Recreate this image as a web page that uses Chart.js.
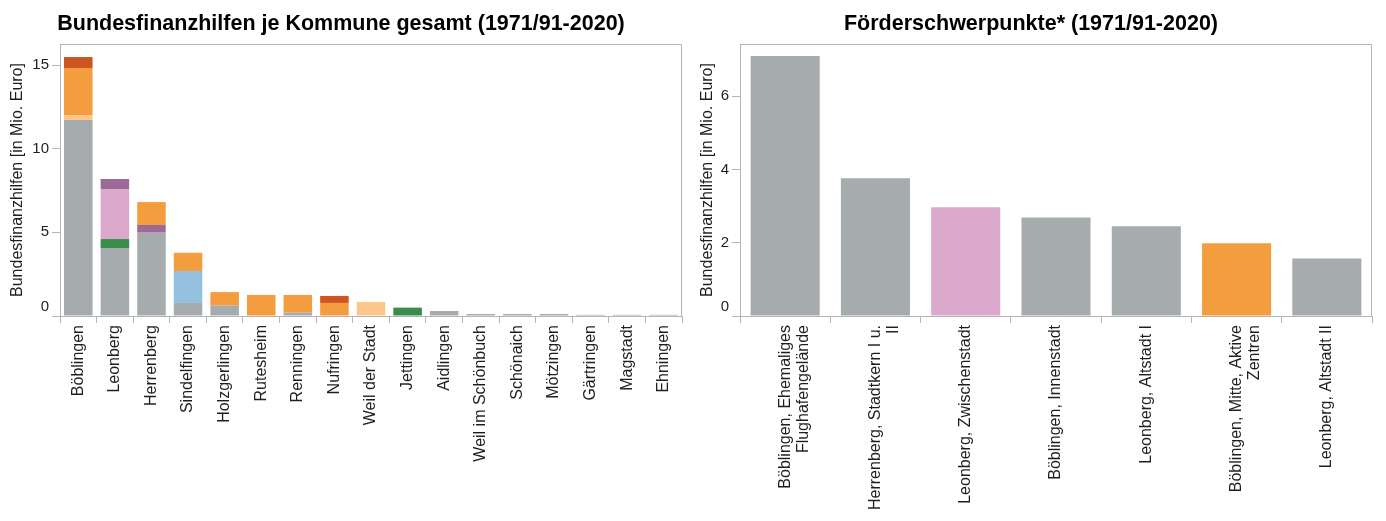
<!DOCTYPE html>
<html>
<head>
<meta charset="utf-8">
<script src="https://cdn.jsdelivr.net/npm/chart.js@4"></script>
<style>
  html, body { margin: 0; padding: 0; background: #fff; }
  #wrap { position: relative; width: 1386px; height: 521px; }
  #left { position: absolute; left: 0; top: 0; }
  #right { position: absolute; left: 690px; top: 0; }
</style>
</head>
<body>
<div id="wrap">
  <canvas id="left" width="690" height="521"></canvas>
  <canvas id="right" width="696" height="521"></canvas>
</div>
<script>
// ---------- data ----------
const titelLinks = "Bundesfinanzhilfen je Kommune gesamt (1971/91-2020)";
const titelRechts = "Förderschwerpunkte* (1971/91-2020)";
const achsenTitel = "Bundesfinanzhilfen [in Mio. Euro]";

const kommunen = ["Böblingen", "Leonberg", "Herrenberg", "Sindelfingen", "Holzgerlingen",
  "Rutesheim", "Renningen", "Nufringen", "Weil der Stadt", "Jettingen", "Aidlingen",
  "Weil im Schönbuch", "Schönaich", "Mötzingen", "Gärtringen", "Magstadt", "Ehningen"];

// stacked segments per Kommune (Mio. Euro), bottom to top
const programmGrau       = [11.72, 4.06, 4.98, 0.78, 0.62, null, 0.20, null, null, null, 0.30, 0.12, 0.12, 0.12, 0.07, 0.07, 0.07];
const programmHellorange = [0.29, null, null, null, null, null, null, null, 0.84, null, null, null, null, null, null, null, null];
const programmGruen      = [null, 0.54, null, null, null, null, null, null, null, 0.50, null, null, null, null, null, null, null];
const programmBlau       = [null, null, null, 1.91, null, null, null, null, null, null, null, null, null, null, null, null, null];
const programmRosa       = [null, 2.99, null, null, null, null, null, null, null, null, null, null, null, null, null, null, null];
const programmViolett    = [null, 0.60, 0.46, null, null, null, null, null, null, null, null, null, null, null, null, null, null];
const programmOrange     = [2.81, null, 1.37, 1.09, 0.81, 1.26, 1.06, 0.78, null, null, null, null, null, null, null, null, null];
const programmRot        = [0.66, null, null, null, null, null, null, 0.42, null, null, null, null, null, null, null, null, null];

const schwerpunkte = [
  ["Böblingen, Ehemaliges", "Flughafengelände"],
  ["Herrenberg, Stadtkern I u.", "II"],
  "Leonberg, Zwischenstadt",
  "Böblingen, Innenstadt",
  "Leonberg, Altstadt I",
  ["Böblingen, Mitte, Aktive", "Zentren"],
  "Leonberg, Altstadt II"
];
const schwerpunktGrau   = [7.10, 3.76, null, 2.69, 2.45, null, 1.57];
const schwerpunktRosa   = [null, null, 2.97, null, null, null, null];
const schwerpunktOrange = [null, null, null, null, null, 1.99, null];

const yTicksLinks = [0, 5, 10, 15];
const yMaxLinks = 16.26;
const yTicksRechts = [0, 2, 4, 6];
const yMaxRechts = 7.43;

// ---------- styles ----------
const FONT = "'Liberation Sans', Arial, sans-serif";
const LINE = "#b5b5b5";
const TEXT = "#1e1e1e";
const C = {
  grau: "#a6abae", hellorange: "#fdc68a", gruen: "#3b8b4a", blau: "#93c1de",
  rosa: "#dba9cb", violett: "#9d6a98", orange: "#f49d3f", rot: "#cd5522"
};
Chart.defaults.font.family = FONT;
Chart.defaults.animation = false;

const framePlugin = {
  id: 'frame',
  afterDraw(chart) {
    const { ctx, chartArea: a } = chart;
    ctx.save();
    ctx.strokeStyle = LINE;
    ctx.lineWidth = 1;
    ctx.beginPath();
    const t = Math.round(a.top) + 0.5, r = Math.round(a.right) - 0.5;
    ctx.moveTo(Math.round(a.left) + 0.5, t);
    ctx.lineTo(r, t);
    ctx.lineTo(r, Math.round(a.bottom));
    ctx.stroke();
    // y tick labels (bottom label kept inside the pane)
    const ys = chart.scales.y;
    ctx.fillStyle = TEXT;
    ctx.font = "15px " + FONT;
    ctx.textAlign = "right";
    ctx.textBaseline = "middle";
    ys.ticks.forEach(tk => {
      let y = ys.getPixelForValue(tk.value);
      y = Math.min(y, a.bottom - 9.5);
      ctx.fillText(String(tk.value), a.left - 11, y);
    });
    ctx.restore();
  }
};

function makeOptions(title, yMax, yTicks, yWidth, padRight, barPct) {
  return {
    responsive: false,
    animation: false,
    layout: { padding: { left: 0, right: padRight, top: 0, bottom: 0 } },
    plugins: {
      legend: { display: false },
      tooltip: { enabled: false },
      title: {
        display: true, text: title, color: "#000",
        font: { size: 21.5, weight: 'bold', lineHeight: 1.2 },
        padding: { top: 11.6, bottom: 6.6 }
      }
    },
    datasets: { bar: { categoryPercentage: 1, barPercentage: barPct, borderWidth: 0 } },
    scales: {
      x: {
        stacked: true,
        grid: { display: true, drawOnChartArea: false, drawTicks: true, tickLength: 7, color: LINE, offset: true },
        border: { color: LINE },
        ticks: {
          autoSkip: false, minRotation: 90, maxRotation: 90, padding: 2,
          color: TEXT, font: { size: 16, lineHeight: 1.15 }
        },
        afterFit: s => { s.height = 205; }
      },
      y: {
        stacked: true, min: 0, max: yMax,
        grid: { display: true, drawOnChartArea: false, drawTicks: true, tickLength: 8, color: LINE },
        border: { color: LINE },
        ticks: { display: false },
        afterBuildTicks: s => { s.ticks = yTicks.map(v => ({ value: v })); },
        title: {
          display: true, text: achsenTitel, color: TEXT,
          font: { size: 16, lineHeight: 1.2 }, padding: { top: 8, bottom: 0 }
        },
        afterFit: s => { s.width = yWidth; }
      }
    }
  };
}

new Chart(document.getElementById('left'), {
  type: 'bar',
  data: {
    labels: kommunen,
    datasets: [
      { label: "Programm grau", data: programmGrau, backgroundColor: C.grau },
      { label: "Programm hellorange", data: programmHellorange, backgroundColor: C.hellorange },
      { label: "Programm grün", data: programmGruen, backgroundColor: C.gruen },
      { label: "Programm blau", data: programmBlau, backgroundColor: C.blau },
      { label: "Programm rosa", data: programmRosa, backgroundColor: C.rosa },
      { label: "Programm violett", data: programmViolett, backgroundColor: C.violett },
      { label: "Programm orange", data: programmOrange, backgroundColor: C.orange },
      { label: "Programm rot", data: programmRot, backgroundColor: C.rot }
    ]
  },
  options: makeOptions(titelLinks, yMaxLinks, yTicksLinks, 60, 8, 0.78),
  plugins: [framePlugin]
});

new Chart(document.getElementById('right'), {
  type: 'bar',
  data: {
    labels: schwerpunkte,
    datasets: [
      { label: "Programm grau", data: schwerpunktGrau, backgroundColor: C.grau },
      { label: "Programm rosa", data: schwerpunktRosa, backgroundColor: C.rosa },
      { label: "Programm orange", data: schwerpunktOrange, backgroundColor: C.orange }
    ]
  },
  options: makeOptions(titelRechts, yMaxRechts, yTicksRechts, 50, 14, 0.765),
  plugins: [framePlugin]
});
</script>
</body>
</html>
